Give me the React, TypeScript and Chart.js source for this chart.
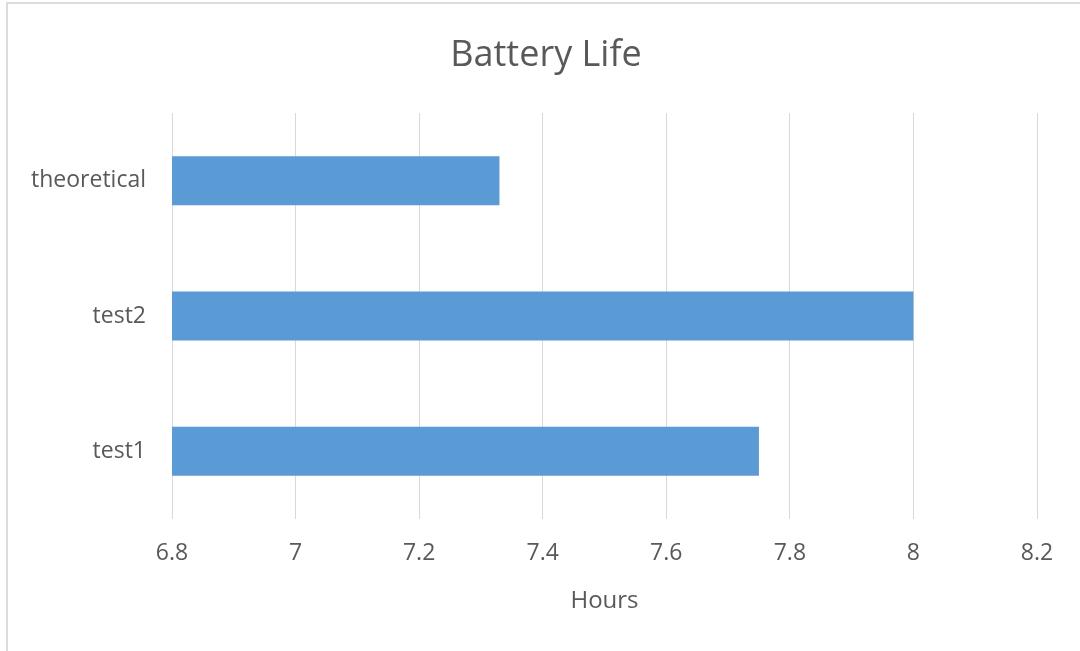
import React, { useEffect, useRef } from "react";
import { Chart, registerables } from "chart.js";

Chart.register(...registerables);

const categories = ["theoretical", "test2", "test1"];
const hours = [7.33, 8.0, 7.75];
const xMin = 6.8;
const xMax = 8.2;
const xStep = 0.2;

const FONT = "'Open Sans', 'Noto Sans', sans-serif";
const TEXT = "#595959";

export default function App() {
  const ref = useRef<HTMLCanvasElement | null>(null);

  useEffect(() => {
    if (!ref.current) return;
    const chart = new Chart(ref.current, {
      type: "bar",
      data: {
        labels: categories,
        datasets: [
          {
            data: hours,
            backgroundColor: "#5b9bd5",
            borderWidth: 0,
            barPercentage: 0.362,
            categoryPercentage: 1,
          },
        ],
      },
      options: {
        indexAxis: "y",
        responsive: false,
        animation: false,
        layout: { padding: { left: 12, right: 0, top: 0, bottom: 0 } },
        plugins: {
          legend: { display: false },
          tooltip: { enabled: false },
          title: {
            display: true,
            text: "Battery Life",
            color: TEXT,
            font: { family: FONT, size: 36, weight: "normal", lineHeight: 1.2 },
            padding: { top: 34, bottom: 35.8 },
          },
        },
        scales: {
          x: {
            type: "linear",
            min: xMin,
            max: xMax,
            afterFit: (s: any) => {
              s.height = 132;
            },
            ticks: {
              stepSize: xStep,
              color: TEXT,
              padding: 21,
              font: { family: FONT, size: 23 },
              callback: (v: any) => String(Math.round(Number(v) * 10) / 10),
            },
            grid: { color: "#d9d9d9", drawTicks: false, lineWidth: 1 },
            border: { display: false },
            title: {
              display: true,
              text: "Hours",
              color: TEXT,
              font: { family: FONT, size: 24 },
              padding: { top: 0, bottom: 35 },
            },
          },
          y: {
            afterFit: (s: any) => {
              s.width = 160;
            },
            ticks: {
              color: TEXT,
              padding: 26,
              font: { family: FONT, size: 23 },
            },
            grid: { display: false, drawTicks: false },
            border: { display: false },
          },
          yRight: {
            type: "linear",
            position: "right",
            display: true,
            afterFit: (s: any) => {
              s.width = 43;
            },
            ticks: { display: false },
            grid: { display: false, drawTicks: false },
            border: { display: false },
          },
        },
      },
    });
    return () => chart.destroy();
  }, []);

  return (
    <div style={{ position: "absolute", left: 0, top: 0, width: 1080, height: 651, background: "#fff" }}>
      <canvas ref={ref} width={1080} height={651} style={{ display: "block" }} />
      <div
        style={{
          position: "absolute",
          left: 6,
          top: 2,
          right: 0,
          bottom: 0,
          borderTop: "2px solid #dcdcdc",
          borderLeft: "2px solid #dcdcdc",
          pointerEvents: "none",
        }}
      />
    </div>
  );
}
